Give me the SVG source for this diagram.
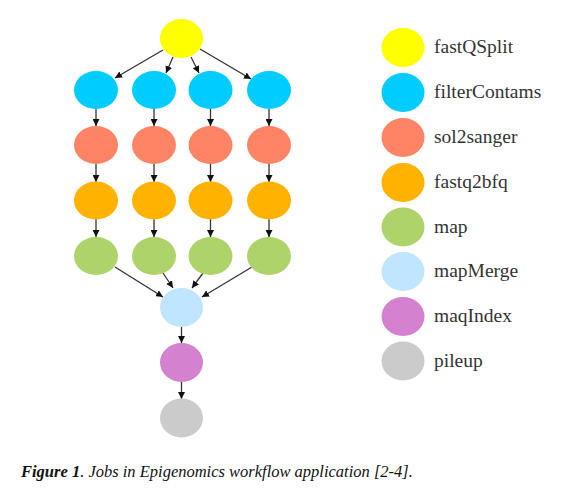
<svg xmlns="http://www.w3.org/2000/svg" width="565" height="496" viewBox="0 0 565 496">
<style>
.e{stroke:none}
.y{fill:#FFFF00}.b{fill:#00CCFF}.s{fill:#FF8466}.o{fill:#FFB300}.g{fill:#AFD36B}.lb{fill:#C0E6FF}.p{fill:#D481D0}.gr{fill:#CBCBCB}
.c line{stroke:#333;stroke-width:1.3;marker-end:url(#ah)}
.lt{font-family:"Liberation Serif","Times New Roman",serif;font-size:19.5px;fill:#333}
.cap{font-family:"Liberation Serif","Times New Roman",serif;font-size:16.5px;font-style:italic;fill:#111}
</style>
<defs>
<marker id="ah" markerUnits="userSpaceOnUse" markerWidth="8" markerHeight="7" refX="7" refY="3.5" orient="auto">
<path d="M0,0 L7,3.5 L0,7 z" fill="#111"/>
</marker>
</defs>
<rect width="565" height="496" fill="#fff"/>
<g id="connectors" class="c">
<line x1="163" y1="50" x2="115" y2="78"/>
<line x1="173" y1="57" x2="166" y2="73"/>
<line x1="191" y1="57" x2="199" y2="73"/>
<line x1="200" y1="49" x2="251" y2="79"/>
<line x1="96" y1="109" x2="96" y2="126"/>
<line x1="154" y1="109" x2="154" y2="126"/>
<line x1="210.5" y1="109" x2="210.5" y2="126"/>
<line x1="269" y1="109" x2="269" y2="126"/>
<line x1="96" y1="164" x2="96" y2="182"/>
<line x1="154" y1="164" x2="154" y2="182"/>
<line x1="210.5" y1="164" x2="210.5" y2="182"/>
<line x1="269" y1="164" x2="269" y2="182"/>
<line x1="96" y1="219" x2="96" y2="237"/>
<line x1="154" y1="219" x2="154" y2="237"/>
<line x1="210.5" y1="219" x2="210.5" y2="237"/>
<line x1="269" y1="219" x2="269" y2="237"/>
<line x1="115" y1="267" x2="163" y2="297"/>
<line x1="163" y1="273" x2="173" y2="288"/>
<line x1="203" y1="273" x2="192" y2="288"/>
<line x1="252" y1="267" x2="202" y2="297"/>
<line x1="181.5" y1="327" x2="181.5" y2="343"/>
<line x1="181.5" y1="382" x2="181.5" y2="399"/>
</g>
<g id="fastQSplit"><ellipse class="e y" cx="181.5" cy="38.5" rx="21.5" ry="19.5"/></g>
<g id="filterContams1"><ellipse class="e b" cx="96" cy="90" rx="22" ry="19"/></g>
<g id="filterContams2"><ellipse class="e b" cx="154" cy="90" rx="22" ry="19"/></g>
<g id="filterContams3"><ellipse class="e b" cx="210.5" cy="90" rx="22" ry="19"/></g>
<g id="filterContams4"><ellipse class="e b" cx="269" cy="90" rx="22" ry="19"/></g>
<g id="sol2sanger1"><ellipse class="e s" cx="96" cy="145" rx="22" ry="19"/></g>
<g id="sol2sanger2"><ellipse class="e s" cx="154" cy="145" rx="22" ry="19"/></g>
<g id="sol2sanger3"><ellipse class="e s" cx="210.5" cy="145" rx="22" ry="19"/></g>
<g id="sol2sanger4"><ellipse class="e s" cx="269" cy="145" rx="22" ry="19"/></g>
<g id="fastq2bfq1"><ellipse class="e o" cx="96" cy="200.5" rx="22" ry="19"/></g>
<g id="fastq2bfq2"><ellipse class="e o" cx="154" cy="200.5" rx="22" ry="19"/></g>
<g id="fastq2bfq3"><ellipse class="e o" cx="210.5" cy="200.5" rx="22" ry="19"/></g>
<g id="fastq2bfq4"><ellipse class="e o" cx="269" cy="200.5" rx="22" ry="19"/></g>
<g id="map1"><ellipse class="e g" cx="96" cy="256" rx="22" ry="19"/></g>
<g id="map2"><ellipse class="e g" cx="154" cy="256" rx="22" ry="19"/></g>
<g id="map3"><ellipse class="e g" cx="210.5" cy="256" rx="22" ry="19"/></g>
<g id="map4"><ellipse class="e g" cx="269" cy="256" rx="22" ry="19"/></g>
<g id="mapMerge"><ellipse class="e lb" cx="181.5" cy="307.5" rx="21.5" ry="19.5"/></g>
<g id="maqIndex"><ellipse class="e p" cx="181.5" cy="362.5" rx="21.5" ry="19.5"/></g>
<g id="pileup"><ellipse class="e gr" cx="181.5" cy="418" rx="21.5" ry="19.5"/></g>
<g id="legend">
<ellipse class="e y" cx="403" cy="47.5" rx="21.5" ry="19.5"/><text class="lt" x="434" y="53">fastQSplit</text>
<ellipse class="e b" cx="403" cy="92.5" rx="21.5" ry="19.5"/><text class="lt" x="434" y="98">filterContams</text>
<ellipse class="e s" cx="403" cy="137.5" rx="21.5" ry="19.5"/><text class="lt" x="434" y="143">sol2sanger</text>
<ellipse class="e o" cx="403" cy="182.5" rx="21.5" ry="19.5"/><text class="lt" x="434" y="188">fastq2bfq</text>
<ellipse class="e g" cx="403" cy="227" rx="21.5" ry="19.5"/><text class="lt" x="434" y="233">map</text>
<ellipse class="e lb" cx="403" cy="271.5" rx="21.5" ry="19.5"/><text class="lt" x="434" y="277">mapMerge</text>
<ellipse class="e p" cx="403" cy="316.5" rx="21.5" ry="19.5"/><text class="lt" x="434" y="322">maqIndex</text>
<ellipse class="e gr" cx="403" cy="361" rx="21.5" ry="19.5"/><text class="lt" x="434" y="367">pileup</text>
</g>
<text class="cap" x="21" y="477"><tspan font-weight="bold">Figure 1</tspan>. Jobs in Epigenomics workflow application [2-4].</text>
</svg>
